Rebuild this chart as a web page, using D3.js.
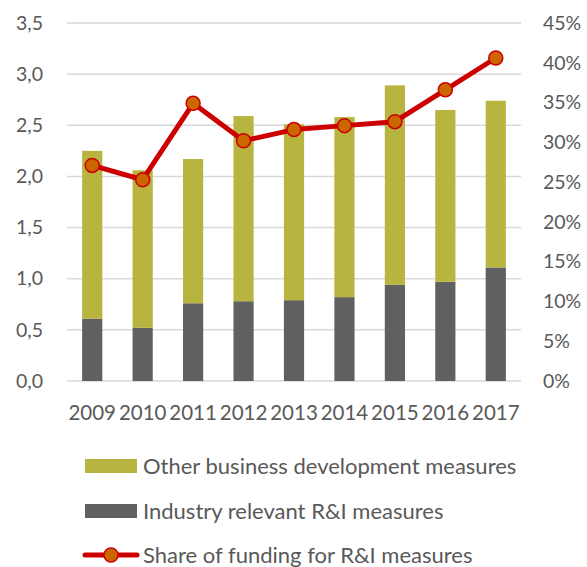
<!DOCTYPE html>
<html>
<head>
<meta charset="utf-8">
<script src="https://cdn.jsdelivr.net/npm/d3@7"></script>
<style>
  body { margin: 0; background: #fff; }
  text { font-family: Lato, "Open Sans", sans-serif; fill: #595959; }
</style>
</head>
<body>
<div id="chart"></div>
<script>
const years = ['2009', '2010', '2011', '2012', '2013', '2014', '2015', '2016', '2017'];
const industryRI = [0.61, 0.52, 0.76, 0.78, 0.79, 0.82, 0.94, 0.97, 1.11];
const otherBusiness = [1.64, 1.54, 1.41, 1.81, 1.72, 1.76, 1.95, 1.68, 1.63];
const shareRI = [0.271, 0.253, 0.349, 0.302, 0.316, 0.321, 0.326, 0.366, 0.406];
const leftTicks = [0, 0.5, 1, 1.5, 2, 2.5, 3, 3.5];
const rightTicks = [0, 0.05, 0.1, 0.15, 0.2, 0.25, 0.3, 0.35, 0.4, 0.45];
const legendLabels = ['Other business development measures', 'Industry relevant R&I measures', 'Share of funding for R&I measures'];

const width = 587;
const height = 567;
const margin = { top: 23, left: 67, right: 66, bottom: 186 };

const svg = d3.select('#chart')
  .append('svg')
  .attr('width', width)
  .attr('height', height);

const x = d3.scaleBand()
  .domain(years)
  .range([margin.left, width - margin.right])
  .paddingInner(0.6)
  .paddingOuter(0.3);

const y = d3.scaleLinear()
  .domain([0, 3.5])
  .range([height - margin.bottom, margin.top]);

const y2 = d3.scaleLinear()
  .domain([0, 0.45])
  .range([height - margin.bottom, margin.top]);

const fmtLeft = d => d3.format('.1f')(d).replace('.', ',');

// gridlines
svg.append('g')
  .selectAll('line')
  .data(leftTicks)
  .join('line')
    .attr('x1', margin.left)
    .attr('x2', width - margin.right)
    .attr('y1', d => y(d))
    .attr('y2', d => y(d))
    .attr('stroke', '#d9d9d9')
    .attr('stroke-width', 1.5);

// stacked bars
const rows = years.map((yr, i) => ({ year: yr, industry: industryRI[i], other: otherBusiness[i] }));
const stack = d3.stack().keys(['industry', 'other'])(rows);
const colors = { industry: '#606060', other: '#b8b440' };

svg.append('g')
  .selectAll('g')
  .data(stack)
  .join('g')
    .attr('fill', d => colors[d.key])
  .selectAll('rect')
  .data(d => d)
  .join('rect')
    .attr('x', d => x(d.data.year))
    .attr('y', d => y(d[1]))
    .attr('width', x.bandwidth())
    .attr('height', d => y(d[0]) - y(d[1]));

// share line
const cx = (d, i) => x(years[i]) + x.bandwidth() / 2;

svg.append('path')
  .datum(shareRI)
  .attr('fill', 'none')
  .attr('stroke', '#cc0000')
  .attr('stroke-width', 5)
  .attr('stroke-linejoin', 'round')
  .attr('d', d3.line().x(cx).y(d => y2(d)));

svg.append('g')
  .selectAll('circle')
  .data(shareRI)
  .join('circle')
    .attr('cx', cx)
    .attr('cy', d => y2(d))
    .attr('r', 7)
    .attr('fill', '#cc6600')
    .attr('stroke', '#cc0000')
    .attr('stroke-width', 1.5);

// axes
function yAxis(g) {
  g.attr('transform', `translate(${margin.left}, 0)`)
    .call(d3.axisLeft(y).tickValues(leftTicks).tickFormat(fmtLeft).tickSize(0).tickPadding(24))
    .call(g => g.select('.domain').remove())
    .attr('font-size', '19.5px')
    .attr('font-family', null);
}

function y2Axis(g) {
  g.attr('transform', `translate(${width - margin.right}, 0)`)
    .call(d3.axisRight(y2).tickValues(rightTicks).tickFormat(d3.format('.0%')).tickSize(0).tickPadding(22))
    .call(g => g.select('.domain').remove())
    .attr('font-size', '19.5px')
    .attr('font-family', null);
}

function xAxis(g) {
  g.attr('transform', `translate(0, ${height - margin.bottom})`)
    .call(d3.axisBottom(x).tickSize(0).tickPadding(24))
    .call(g => g.select('.domain').remove())
    .attr('font-size', '20.5px')
    .attr('font-family', null);
}

svg.append('g').call(yAxis);
svg.append('g').call(y2Axis);
svg.append('g').call(xAxis);
svg.selectAll('.tick text').attr('fill', '#595959');

// legend
const legend = svg.append('g').attr('transform', 'translate(85, 0)');
const legendY = [466, 511, 555];

legend.append('rect')
  .attr('x', 0).attr('y', legendY[0] - 7)
  .attr('width', 52).attr('height', 14)
  .attr('fill', colors.other);

legend.append('rect')
  .attr('x', 0).attr('y', legendY[1] - 7)
  .attr('width', 52).attr('height', 14)
  .attr('fill', colors.industry);

legend.append('line')
  .attr('x1', 0).attr('x2', 52)
  .attr('y1', legendY[2]).attr('y2', legendY[2])
  .attr('stroke', '#cc0000')
  .attr('stroke-width', 5)
  .attr('stroke-linecap', 'round');

legend.append('circle')
  .attr('cx', 26).attr('cy', legendY[2])
  .attr('r', 7)
  .attr('fill', '#cc6600')
  .attr('stroke', '#cc0000')
  .attr('stroke-width', 1.5);

legend.selectAll('text')
  .data(legendLabels)
  .join('text')
    .attr('x', 58)
    .attr('y', (d, i) => legendY[i])
    .attr('dy', '0.36em')
    .attr('font-size', '22px')
    .text(d => d);
</script>
</body>
</html>
